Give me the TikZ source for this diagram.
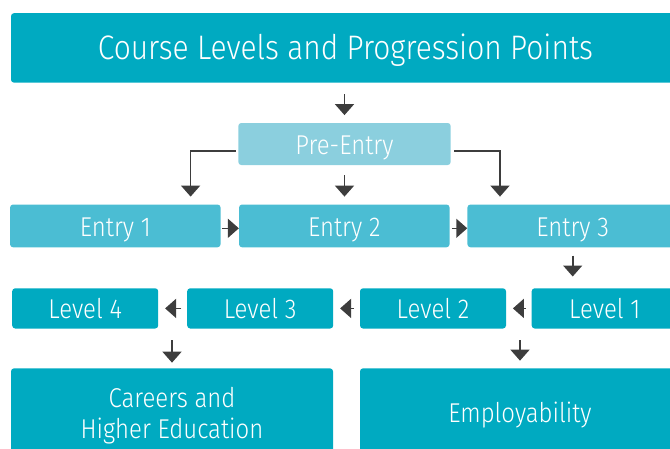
\documentclass[tikz,border=0pt]{standalone}
\usepackage{fontspec}
\setmainfont{Fira Sans}[UprightFont=* Light, FakeStretch=0.88]
\usepackage{xcolor}
\usetikzlibrary{arrows.meta}

\definecolor{titleblue}{HTML}{00AAC1}
\definecolor{preblue}{HTML}{8BCFDE}
\definecolor{entryblue}{HTML}{4BBDD3}
\definecolor{arrowgrey}{HTML}{3D3D3D}

\begin{document}
\begin{tikzpicture}[x=1pt, y=-1pt,
  basebox/.style={text=white, rounded corners=3pt, inner sep=0pt, font=\fontsize{27.2}{31}\selectfont,
    text height=21.9pt, text depth=0pt},
  headbox/.style={basebox, fill=titleblue, font=\fontsize{34}{40}\selectfont, text height=23.4pt},
  prebox/.style={basebox, fill=preblue, minimum width=212.4pt, minimum height=42pt},
  entrybox/.style={basebox, fill=entryblue, minimum width=210.5pt, minimum height=42.8pt},
  levelbox/.style={basebox, fill=titleblue, minimum width=146pt, minimum height=40.2pt, text height=19.9pt},
  goalbox/.style={text=white, rounded corners=3pt, inner sep=0pt, font=\fontsize{27.2}{31}\selectfont,
    fill=titleblue, minimum height=93.7pt, align=center},
  arr/.style={draw=arrowgrey, line width=1.6pt, -{Triangle[width=19pt,length=11pt]}}]

  % Picture frame, boxes run off the right edge
  \clip (0,0) rectangle (670,448);

  % Title and pre-entry
  \node[headbox, minimum width=669pt, minimum height=69.5pt] (title) at (345.5,47.9) {Course Levels and Progression Points};
  \node[prebox] (pre) at (344.5,144) {Pre-Entry};

  % Entry row
  \node[entrybox] (entry1) at (115.3,225.9) {Entry 1};
  \node[entrybox] (entry2) at (344.3,225.9) {Entry 2};
  \node[entrybox] (entry3) at (572.7,225.9) {Entry 3};

  % Level row, right to left
  \node[levelbox] (level4) at (85.2,308.4) {Level 4};
  \node[levelbox] (level3) at (260.2,308.4) {Level 3};
  \node[levelbox] (level2) at (433,308.4) {Level 2};
  \node[levelbox] (level1) at (604.7,308.4) {Level 1};

  % Progression points
  \node[goalbox, minimum width=322pt] (careers) at (172,415.2) {Careers and\\Higher Education};
  \node[goalbox, minimum width=320pt] (employ) at (520,415.2) {Employability};

  % Arrows
  \draw[arr, shorten <=11.3pt, shorten >=7.7pt] (pre.north |- title.south) -- (pre.north);
  \draw[arr, shorten <=10pt, shorten >=7.7pt] (pre.south) -- (pre.south |- entry2.north);
  \draw[arr, shorten <=2.3pt, shorten >=7.7pt] ([yshift=-6.7pt]pre.west) -| ([xshift=75.3pt]entry1.north);
  \draw[arr, shorten <=3.3pt, shorten >=7.7pt] ([yshift=-6.7pt]pre.east) -| ([xshift=-72.7pt]entry3.north);
  \draw[arr, shorten <=1pt] ([yshift=-2.4pt]entry1.east) -- ([yshift=-2.4pt]entry2.west);
  \draw[arr, shorten <=2pt] ([yshift=-2.4pt]entry2.east) -- ([yshift=-2.4pt]entry3.west);
  \draw[arr, shorten <=8pt, shorten >=11.6pt] (entry3.south) -- (entry3.south |- level1.north);
  \foreach \a/\b in {level1/level2, level2/level3, level3/level4}
    \draw[arr, shorten <=5.6pt, shorten >=6.7pt] (\a.west) -- (\b.east);
  \draw[arr, shorten <=11.5pt, shorten >=5.5pt] (careers.north |- level4.south) -- (careers.north);
  \draw[arr, shorten <=11.5pt, shorten >=7.5pt] (employ.north |- level2.south) -- (employ.north);
\end{tikzpicture}
\end{document}
